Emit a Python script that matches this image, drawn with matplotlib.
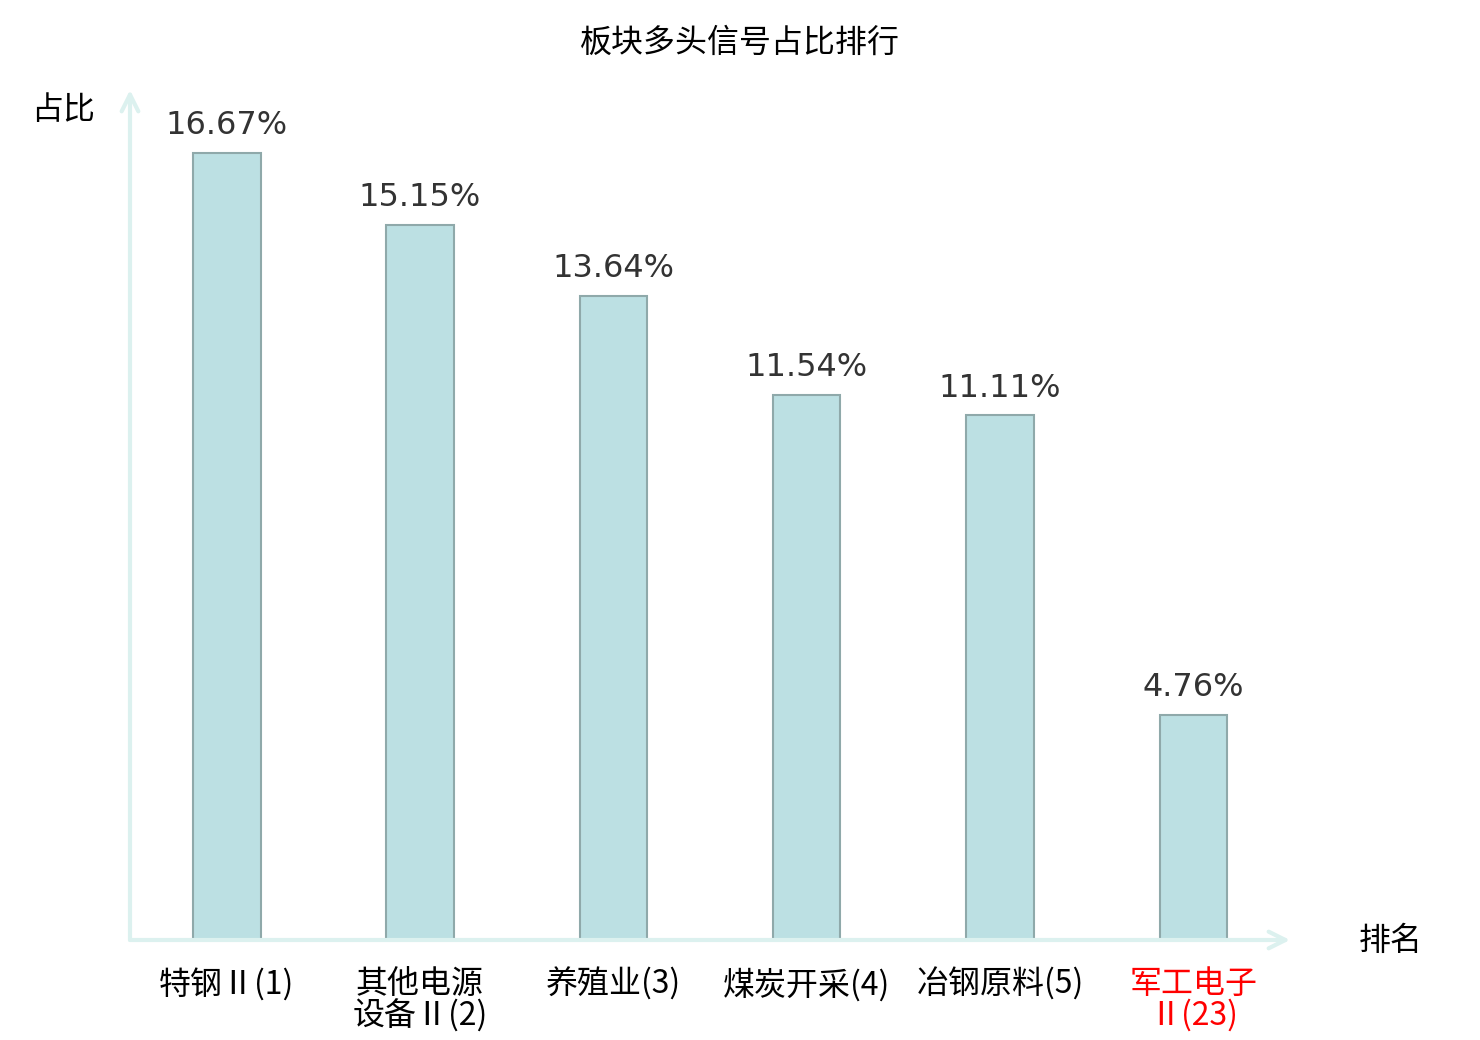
import matplotlib
matplotlib.use("Agg")
import matplotlib.pyplot as plt

plt.rcParams['font.family'] = ['Noto Sans CJK SC', 'DejaVu Sans']

# 数据
categories = ["特钢Ⅱ(1)", "其他电源\n设备Ⅱ(2)", "养殖业(3)", "煤炭开采(4)", "冶钢原料(5)", "军工电子\nⅡ(23)"]
values = [16.67, 15.15, 13.64, 11.54, 11.11, 4.76]
value_labels = ["16.67%", "15.15%", "13.64%", "11.54%", "11.11%", "4.76%"]
label_colors = ["black", "black", "black", "black", "black", "red"]

fig = plt.figure(figsize=(14.8, 10.4), dpi=100)
ax = fig.add_axes([130 / 1480, 100 / 1040, 1160 / 1480, 850 / 1040])

x = list(range(len(categories)))
ax.bar(x, values, width=0.35, color="#bce0e3", edgecolor="#8fa9aa", linewidth=1.5)

for xi, v, lab in zip(x, values, value_labels):
    ax.text(xi, v + 0.25, lab, ha="center", va="bottom", fontsize=23,
            color="#333333", family="DejaVu Sans")

ax.set_xlim(-0.5, 5.5)
ax.set_ylim(0, 18)
ax.set_xticks(x)
ax.set_xticklabels(categories, fontsize=23, linespacing=0.97)
for t, c in zip(ax.get_xticklabels(), label_colors):
    t.set_color(c)
ax.tick_params(axis="x", length=0, pad=20)
ax.set_yticks([])
for s in ax.spines.values():
    s.set_visible(False)

# 坐标轴箭头
axis_color = "#dcf1ef"
ax.annotate("", xy=(1.0, 0), xytext=(0, 0), xycoords="axes fraction",
            arrowprops=dict(arrowstyle="->", color=axis_color, lw=3,
                            mutation_scale=30, shrinkA=0, shrinkB=0))
ax.annotate("", xy=(0, 1.0), xytext=(0, 0), xycoords="axes fraction",
            arrowprops=dict(arrowstyle="->", color=axis_color, lw=3,
                            mutation_scale=30, shrinkA=0, shrinkB=0))

fig.text(1391 / 1480, 1 - 941 / 1040, "排名", ha="center", va="center", fontsize=23)
fig.text(63 / 1480, 1 - 110 / 1040, "占比", ha="center", va="center", fontsize=23)
fig.text(740 / 1480, 1 - 43 / 1040, "板块多头信号占比排行", ha="center", va="center", fontsize=23)

fig.savefig("out.png", dpi=100)
